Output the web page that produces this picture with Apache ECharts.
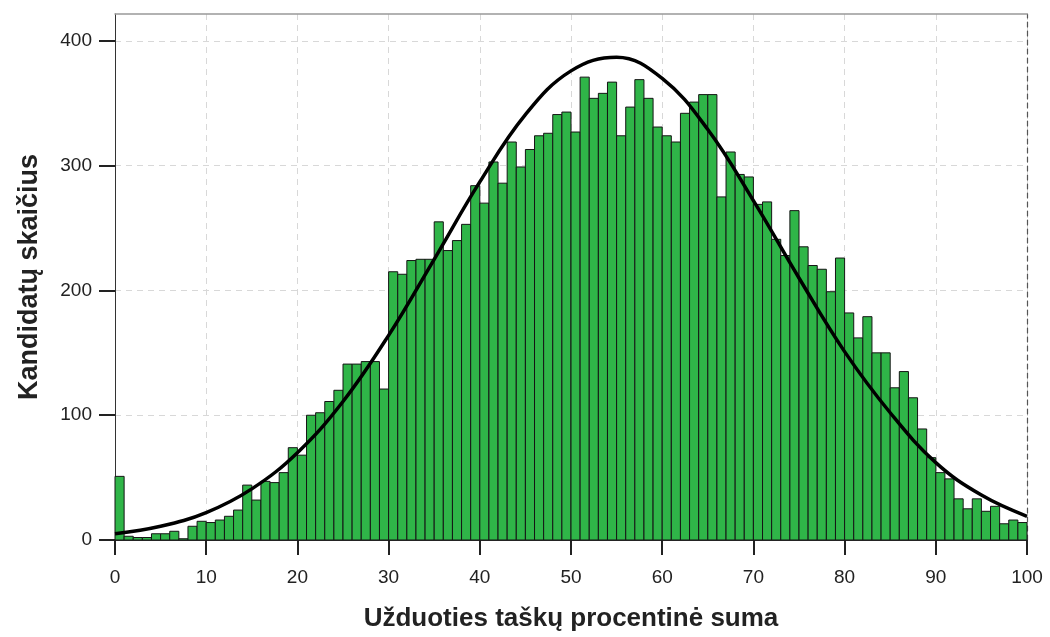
<!DOCTYPE html>
<html>
<head>
<meta charset="utf-8">
<script src="https://cdn.jsdelivr.net/npm/echarts@6/dist/echarts.min.js"></script>
<style>
  html, body { margin: 0; padding: 0; background: #fff; }
  #chart { width: 1050px; height: 637px; }
</style>
</head>
<body>
<div id="chart"></div>
<script>
// histogram bins: start of each 1-point bin (0..99) and candidate counts
const binStarts = Array.from({ length: 100 }, (_, i) => i);
const counts = [
  51, 3, 2, 2, 5, 5, 7, 1, 11, 15,
  14, 16, 19, 24, 44, 32, 47, 46, 54, 74,
  68, 100, 102, 111, 120, 141, 141, 143, 143, 121,
  215, 213, 224, 225, 225, 255, 232, 240, 253, 284,
  270, 303, 286, 319, 299, 313, 324, 326, 341, 343,
  327, 371, 354, 358, 367, 324, 347, 369, 354, 331,
  324, 319, 342, 351, 357, 357, 275, 311, 293, 291,
  269, 271, 241, 228, 264, 235, 220, 217, 199, 226,
  182, 162, 179, 150, 150, 122, 135, 114, 89, 66,
  54, 49, 33, 25, 33, 23, 27, 13, 16, 14
];

// normal curve
const curveX = [0, 5, 10, 15, 20, 25, 30, 35, 40, 45, 50, 55, 60, 65, 70, 75, 80, 85, 90, 95, 100];
const curveY = [5, 11, 22, 41, 70, 111, 164, 225, 287, 341, 376, 387, 370, 329, 272, 210, 151, 102, 62, 36, 19];

const yTicks = [0, 100, 200, 300, 400];

const font = "'Liberation Sans', Arial, sans-serif";
const chart = echarts.init(document.getElementById('chart'));

const option = {
  animation: false,
  backgroundColor: '#fff',
  grid: { left: 115, right: 23, top: 14, bottom: 96 },
  xAxis: [{
    type: 'value',
    min: 0,
    max: 100,
    interval: 10,
    name: 'Užduoties taškų procentinė suma',
    nameLocation: 'middle',
    nameGap: 66,
    nameTextStyle: { fontFamily: font, fontSize: 26, fontWeight: 'bold', color: '#222' },
    axisLine: { show: true, lineStyle: { color: '#333', width: 1 } },
    axisTick: { show: true, length: 15, lineStyle: { color: '#222', width: 2 } },
    axisLabel: { fontFamily: font, fontSize: 19, color: '#222', margin: 28 },
    splitLine: { show: true, lineStyle: { color: '#d8d8d8', type: [6, 5], width: 1 } }
  }, {
    type: 'value',
    position: 'top',
    min: 0,
    max: 100,
    axisLine: { show: true, onZero: false, lineStyle: { color: '#999', width: 1.5 } },
    axisTick: { show: false },
    axisLabel: { show: false },
    splitLine: { show: false }
  }],
  yAxis: [{
    type: 'value',
    min: 0,
    max: 421.6,
    name: 'Kandidatų skaičius',
    nameLocation: 'middle',
    nameGap: 72,
    nameTextStyle: { fontFamily: font, fontSize: 27, fontWeight: 'bold', color: '#222' },
    axisLine: { show: true, lineStyle: { color: '#333', width: 1 } },
    axisTick: { show: true, length: 16, customValues: yTicks, lineStyle: { color: '#222', width: 2 } },
    axisLabel: { fontFamily: font, fontSize: 19, color: '#222', margin: 23, customValues: yTicks },
    splitLine: { show: true, lineStyle: { color: '#d8d8d8', type: [6, 5], width: 1 } }
  }, {
    type: 'value',
    position: 'right',
    min: 0,
    max: 421.6,
    axisLine: { show: true, onZero: false, lineStyle: { color: '#555', width: 1.2, type: [5, 4] } },
    axisTick: { show: false },
    axisLabel: { show: false },
    splitLine: { show: false }
  }],
  series: [{
    type: 'custom',
    xAxisIndex: 0,
    yAxisIndex: 0,
    data: binStarts.map((s, i) => [s, counts[i]]),
    renderItem: function (params, api) {
      const x = api.value(0);
      const v = api.value(1);
      const p0 = api.coord([x, 0]);
      const p1 = api.coord([x + 1, v]);
      return {
        type: 'rect',
        shape: { x: p0[0], y: p1[1], width: p1[0] - p0[0], height: p0[1] - p1[1] },
        style: { fill: '#2fb548', stroke: '#151515', lineWidth: 1 }
      };
    },
    z: 2
  }, {
    type: 'line',
    xAxisIndex: 0,
    yAxisIndex: 0,
    data: curveX.map((x, i) => [x, curveY[i]]),
    smooth: 0.4,
    symbol: 'none',
    lineStyle: { color: '#000', width: 3.5 },
    z: 3
  }]
};

chart.setOption(option);
</script>
</body>
</html>
